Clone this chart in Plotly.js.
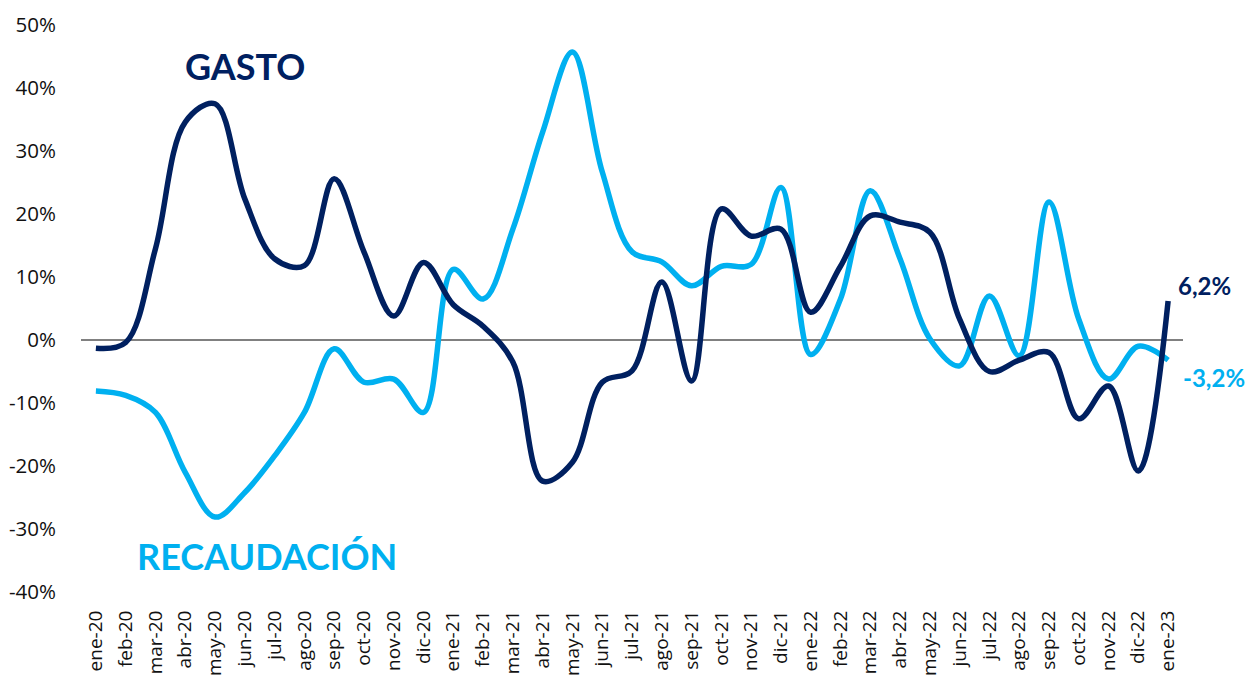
<!DOCTYPE html>
<html>
<head>
<meta charset="utf-8">
<script src="https://cdn.plot.ly/plotly-3.0.1.min.js"></script>
<style>
html,body{margin:0;padding:0;background:#fff;}
#chart{width:1252px;height:675px;}
</style>
</head>
<body>
<div id="chart"></div>
<script>
const months = ["ene-20","feb-20","mar-20","abr-20","may-20","jun-20","jul-20","ago-20","sep-20","oct-20","nov-20","dic-20",
"ene-21","feb-21","mar-21","abr-21","may-21","jun-21","jul-21","ago-21","sep-21","oct-21","nov-21","dic-21",
"ene-22","feb-22","mar-22","abr-22","may-22","jun-22","jul-22","ago-22","sep-22","oct-22","nov-22","dic-22","ene-23"];

const gasto = [-1.3,-0.4,14.5,34.6,37.5,22.4,12.9,11.8,25.6,14.0,3.8,12.3,
5.6,2.2,-3.5,-22.4,-19.4,-6.7,-4.9,9.2,-6.5,20.8,16.5,17.6,
4.4,11.7,19.7,18.7,17.1,3.3,-5.0,-3.2,-2.0,-12.5,-7.3,-20.8,6.2];

const recaudacion = [-8.1,-8.8,-11.5,-21.0,-28.1,-24.2,-18.4,-11.5,-1.4,-6.7,-6.2,-11.5,
11.2,6.5,17.6,33.0,45.7,26.7,14.0,12.4,8.6,11.7,12.0,24.2,
-2.3,6.5,23.7,12.9,0.2,-4.1,7.0,-2.5,21.9,3.3,-6.2,-1.0,-3.2];

const yTicks = [-40,-30,-20,-10,0,10,20,30,40,50];
const yTickText = yTicks.map(v => v + "%");

const navy = "#002060";
const sky = "#00B0F0";
const fmt = v => v.toFixed(1).replace(".", ",") + "%";

const idx = months.map((m,i)=>i);
const last = months.length - 1;

const traces = [
  {x: idx, y: recaudacion, type: "scatter", mode: "lines", line: {color: sky, width: 5.5, shape: "spline", smoothing: 1}, hoverinfo: "skip"},
  {x: idx, y: gasto, type: "scatter", mode: "lines", line: {color: navy, width: 5.5, shape: "spline", smoothing: 1}, hoverinfo: "skip"}
];

const layout = {
  width: 1252, height: 675,
  margin: {l: 81, r: 69, t: 25, b: 83},
  paper_bgcolor: "#fff", plot_bgcolor: "#fff",
  showlegend: false,
  font: {family: "'Open Sans', sans-serif", color: "#111"},
  xaxis: {
    range: [-0.5, last + 0.5],
    tickmode: "array", tickvals: idx, ticktext: months,
    tickangle: -90, tickfont: {size: 19, color: "#111", family: "'Open Sans', sans-serif"},
    showgrid: false, zeroline: false, showline: false,
    ticks: "outside", ticklen: 10, tickcolor: "rgba(0,0,0,0)"
  },
  yaxis: {
    range: [-40, 50],
    tickmode: "array", tickvals: yTicks, ticktext: yTickText,
    tickfont: {size: 20.5, color: "#111", family: "'Open Sans', sans-serif"},
    showgrid: false, zeroline: true, zerolinecolor: "#808080", zerolinewidth: 1.5,
    showline: false, ticks: "outside", ticklen: 20, tickcolor: "rgba(0,0,0,0)"
  },
  annotations: [
    {xref: "paper", yref: "paper", x: 0.1488, y: 0.928, text: "<b>GASTO</b>", showarrow: false,
     font: {size: 36, color: navy, family: "Lato, 'Open Sans', sans-serif"}, xanchor: "center", yanchor: "middle"},
    {xref: "paper", yref: "paper", x: 0.1688, y: 0.0635, text: "<b>RECAUDACIÓN</b>", showarrow: false,
     font: {size: 36, color: sky, family: "Lato, 'Open Sans', sans-serif"}, xanchor: "center", yanchor: "middle"},
    {xref: "x", yref: "y", x: last, y: gasto[last], text: "<b>" + fmt(gasto[last]) + "</b>", showarrow: false,
     xanchor: "left", yanchor: "middle", xshift: 8, yshift: 15, font: {size: 24, color: navy, family: "Lato, 'Open Sans', sans-serif"}},
    {xref: "x", yref: "y", x: last, y: recaudacion[last], text: "<b>" + fmt(recaudacion[last]) + "</b>", showarrow: false,
     xanchor: "left", yanchor: "middle", xshift: 13, yshift: -17, font: {size: 24, color: sky, family: "Lato, 'Open Sans', sans-serif"}}
  ]
};

Plotly.newPlot("chart", traces, layout, {displayModeBar: false, staticPlot: true});
</script>
</body>
</html>
